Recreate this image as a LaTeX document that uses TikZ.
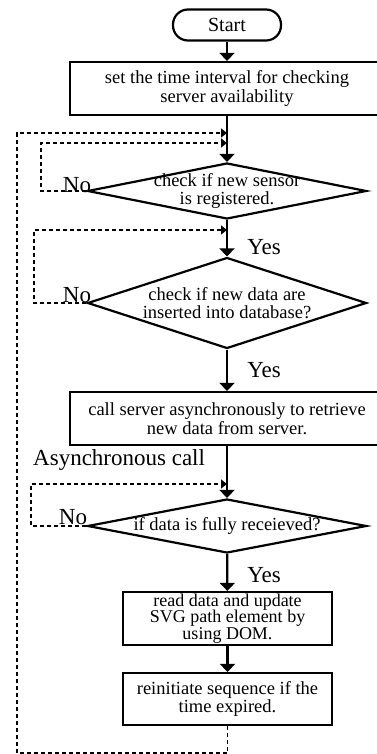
\documentclass[tikz,border=0pt]{standalone}
\usepackage{fontspec}
\setmainfont{Liberation Serif}
\usetikzlibrary{shapes.geometric,arrows.meta}

\begin{document}
\begin{tikzpicture}[
      x=1pt, y=-1pt,
      every node/.style={font=\fontsize{18.5}{18.5}\selectfont, align=center, inner sep=0pt},
      box/.style={rectangle, draw, line width=2.2pt, minimum height=53pt},
      decision/.style={diamond, draw, line width=2.2pt, minimum width=279pt},
      answer/.style={font=\fontsize{23}{23}\selectfont},
      mainline/.style={line width=2.2pt, -{Triangle[width=15pt,length=8pt]}},
      backline/.style={line width=1.9pt, dash pattern=on 4pt off 3pt, -{Triangle[width=9pt,length=6pt]}}
    ]
    \useasboundingbox (0,0) rectangle (377,754);
    \node[draw, line width=2.2pt, rounded corners=15pt, minimum width=108pt, minimum height=31pt, font=\fontsize{20}{20}\selectfont] (start) at (227,25) {Start};
    \node[box, minimum width=314pt] (interval) at (227,88.5) {set the time interval for checking\\server availability};
    \coordinate (j1) at (227,133);
    \coordinate (j2) at (227,143);
    \node[decision, minimum height=56pt, label=center:{check if new sensor\\is registered.}] (sensor) at (227,191) {};
    \coordinate (j3) at (227,230);
    \node[decision, minimum height=91pt, label=center:{check if new data are\\inserted into database?}] (newdata) at (227,303) {};
    \node[box, minimum width=314pt] (call) at (227,418.5) {call server asynchronously to retrieve\\new data from server.};
    \node[answer, anchor=base west] (async) at (33,465) {Asynchronous call};
    \coordinate (j4) at (227,484);
    \node[decision, minimum height=54pt, label=center:{if data is fully receieved?}] (received) at (227,526) {};
    \node[box, minimum width=209pt, font=\fontsize{18}{16.8}\selectfont] (update) at (227.5,618.5) {read data and update\\SVG path element by\\using DOM.};
    \node[box, minimum width=209pt, minimum height=52pt] (restart) at (227.5,699) {reinitiate sequence if the\\time expired.};

    % answers
    \node[answer] (no1) at (77,185) {No};
    \node[answer] (yes1) at (264,247) {Yes};
    \node[answer] (no2) at (77,295) {No};
    \node[answer] (yes2) at (264,370) {Yes};
    \node[answer] (no3) at (73,517) {No};
    \node[answer] (yes3) at (264,575) {Yes};

    % main flow
    \draw[mainline] (start) -- (interval);
    \draw[mainline] (interval) -- (sensor);
    \draw[mainline] (sensor) -- (newdata);
    \draw[mainline] (newdata) -- (call);
    \draw[mainline] (call) -- (received);
    \draw[mainline] (received) -- (update);
    \draw[mainline] (update) -- (restart);

    % loops back
    \draw[backline] (sensor.west) -- ++(-45,0) |- (j2);
    \draw[backline] (newdata.west) -- ++(-52,0) |- (j3);
    \draw[backline] (received.west) -- ++(-55,0) |- (j4);
    \draw[backline] (restart.south) -- ++(0,27) -- ++(-210.5,0) |- (j1);
\end{tikzpicture}
\end{document}
